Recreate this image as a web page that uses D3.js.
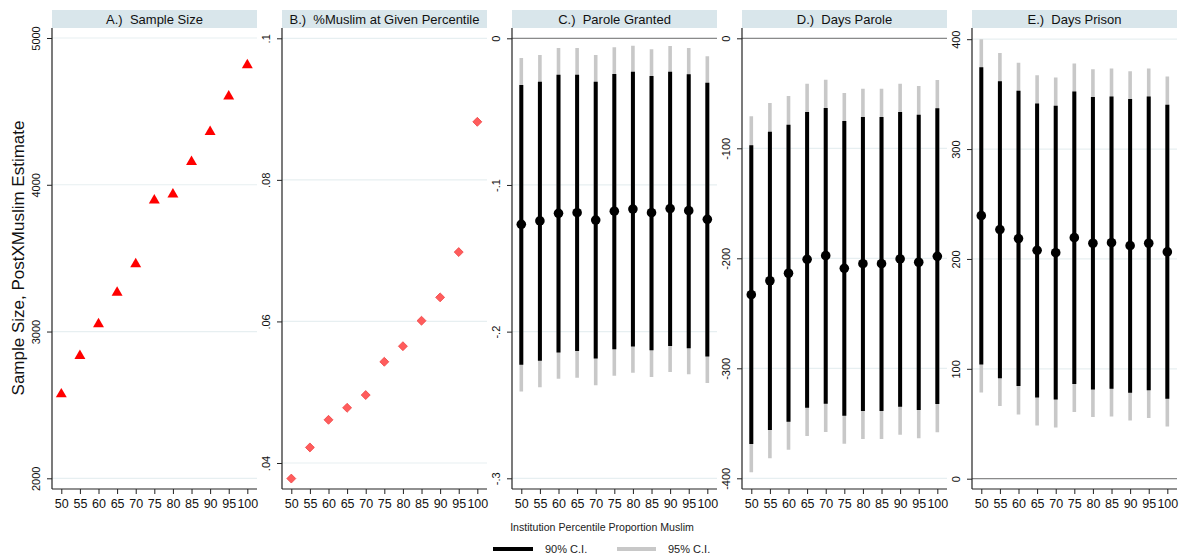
<!DOCTYPE html>
<html><head><meta charset="utf-8">
<script src="https://cdn.jsdelivr.net/npm/d3@7"></script>
<style>body{margin:0;background:#fff}svg{font-family:"Liberation Sans",Arial,Helvetica,sans-serif}</style>
</head><body><svg id="c" width="1182" height="558"></svg>
<script>
// ---------- data ----------
const percentiles = [50,55,60,65,70,75,80,85,90,95,100];
const xTickLabels = ["50","55","60","65","70","75","80","85","90","95","100"];

const sampleSize = [2573,2834,3050,3265,3460,3894,3935,4157,4360,4603,4816];
const pctMuslim  = [0.0378,0.0422,0.0461,0.0478,0.0496,0.0543,0.0565,0.0601,0.0634,0.0698,0.0882];

const paroleEst  = [-0.1268,-0.1245,-0.1193,-0.1189,-0.1239,-0.1179,-0.1164,-0.1189,-0.1161,-0.1175,-0.1234];
const paroleHi90 = [-0.0318,-0.0296,-0.0248,-0.0248,-0.0296,-0.0243,-0.0228,-0.0257,-0.0228,-0.0245,-0.0303];
const paroleLo90 = [-0.2225,-0.2198,-0.2143,-0.2132,-0.2184,-0.2120,-0.2102,-0.2127,-0.2098,-0.2113,-0.2170];
const paroleHi95 = [-0.0134,-0.0114,-0.0066,-0.0066,-0.0114,-0.0061,-0.0050,-0.0075,-0.0052,-0.0066,-0.0123];
const paroleLo95 = [-0.2409,-0.2379,-0.2322,-0.2314,-0.2365,-0.2300,-0.2281,-0.2309,-0.2275,-0.2290,-0.2350];

const daysParoleEst  = [-233.1,-220.4,-213.6,-200.9,-197.6,-209.1,-204.9,-204.9,-200.6,-203.6,-198.2];
const daysParoleHi90 = [-97.3,-84.9,-78.5,-67.0,-63.4,-75.2,-71.5,-71.5,-67.0,-69.5,-63.6];
const daysParoleLo90 = [-368.8,-356.1,-348.5,-335.8,-332.2,-343.1,-338.8,-338.8,-334.9,-337.9,-332.5];
const daysParoleHi95 = [-70.9,-58.8,-52.5,-41.3,-37.6,-49.7,-45.8,-45.8,-41.3,-43.4,-37.9];
const daysParoleLo95 = [-394.5,-381.8,-374.0,-361.5,-357.9,-368.5,-364.3,-364.3,-360.4,-363.6,-358.2];

const daysPrisonEst  = [239.4,226.7,218.5,207.9,205.7,219.4,214.3,214.8,212.1,214.3,206.4];
const daysPrisonHi90 = [374.5,361.8,353.0,341.5,339.4,352.4,347.3,347.9,345.5,347.9,340.3];
const daysPrisonLo90 = [103.9,91.5,84.3,73.9,72.1,86.1,81.2,81.8,78.2,80.6,72.7];
const daysPrisonHi95 = [400.0,387.5,378.5,367.3,365.2,377.9,372.7,373.3,370.9,373.3,366.1];
const daysPrisonLo95 = [78.5,66.1,58.5,48.5,46.6,60.6,56.1,56.6,53.0,55.2,47.6];

const titles = ["A.)  Sample Size","B.)  %Muslim at Given Percentile","C.)  Parole Granted","D.)  Days Parole","E.)  Days Prison"];
const yTicksA = [2000,3000,4000,5000];   const yLabelsA = ["2000","3000","4000","5000"];
const yTicksB = [0.04,0.06,0.08,0.1];   const yLabelsB = [".04",".06",".08",".1"];
const yTicksC = [-0.3,-0.2,-0.1,0];     const yLabelsC = ["-.3","-.2","-.1","0"];
const yTicksD = [-400,-300,-200,-100,0]; const yLabelsD = ["-400","-300","-200","-100","0"];
const yTicksE = [0,100,200,300,400];     const yLabelsE = ["0","100","200","300","400"];
const yAxisTitle = "Sample Size, PostXMuslim Estimate";
const xAxisTitle = "Institution Percentile Proportion Muslim";
const legendLabels = ["90% C.I.","95% C.I."];

// ---------- layout ----------
const svg = d3.select("#c");
const PW = 205, TOP = 28, BOT = 489, HDR_TOP = 10;
const gridColor = "#e7eff1", hdrColor = "#d9e6eb";

const panels = [
  {x0:52,  title:titles[0], domain:[2000,5000], range:[478.3,38], ticks:yTicksA, labels:yLabelsA, kind:"tri", vals:sampleSize},
  {x0:282, title:titles[1], domain:[0.04,0.1], range:[463,38.3], ticks:yTicksB, labels:yLabelsB, kind:"dia", vals:pctMuslim},
  {x0:512, title:titles[2], domain:[-0.3,0], range:[478.3,38.3], ticks:yTicksC, labels:yLabelsC, kind:"ci", zero:true,
     est:paroleEst, hi90:paroleHi90, lo90:paroleLo90, hi95:paroleHi95, lo95:paroleLo95},
  {x0:742, title:titles[3], domain:[-400,0], range:[478.3,38.3], ticks:yTicksD, labels:yLabelsD, kind:"ci", zero:true,
     est:daysParoleEst, hi90:daysParoleHi90, lo90:daysParoleLo90, hi95:daysParoleHi95, lo95:daysParoleLo95},
  {x0:972, title:titles[4], domain:[0,400], range:[478.7,39.2], ticks:yTicksE, labels:yLabelsE, kind:"ci", zero:true,
     est:daysPrisonEst, hi90:daysPrisonHi90, lo90:daysPrisonLo90, hi95:daysPrisonHi95, lo95:daysPrisonLo95}
];

panels.forEach(p => {
  const g = svg.append("g");
  const x = d3.scaleLinear().domain([47.5,102.6]).range([p.x0, p.x0+PW]);
  const y = d3.scaleLinear().domain(p.domain).range(p.range);

  // header
  g.append("rect").attr("x",p.x0).attr("y",HDR_TOP).attr("width",PW).attr("height",TOP-HDR_TOP).attr("fill",hdrColor);
  g.append("text").attr("x",p.x0+PW/2).attr("y",HDR_TOP+13.5).attr("text-anchor","middle")
    .attr("font-size",13).attr("fill","#111").style("white-space","pre").text(p.title);

  // gridlines
  g.selectAll(".grid").data(p.ticks).enter().append("line")
    .attr("x1",p.x0).attr("x2",p.x0+PW).attr("y1",d=>y(d)).attr("y2",d=>y(d))
    .attr("stroke",gridColor).attr("stroke-width",1.2);
  if (p.zero) {
    g.append("line").attr("x1",p.x0).attr("x2",p.x0+PW).attr("y1",y(0)).attr("y2",y(0))
      .attr("stroke","#8a8a8a").attr("stroke-width",1.2);
  }

  // y axis
  const ya = d3.axisLeft(y).tickValues(p.ticks).tickSize(5).tickFormat((d,i)=>p.labels[i]);
  const yg = g.append("g").attr("transform",`translate(${p.x0},0)`).call(ya);
  yg.select(".domain").remove();
  yg.selectAll(".tick line").attr("stroke","#222");
  yg.selectAll(".tick text").attr("x",0).attr("dy",0).attr("text-anchor","middle")
    .attr("transform","translate(-12,0) rotate(-90)").attr("font-size",11).attr("fill","#111")
    .style("font-family",'"Liberation Sans",Arial,sans-serif');
  g.append("line").attr("x1",p.x0).attr("x2",p.x0).attr("y1",TOP).attr("y2",BOT).attr("stroke","#222").attr("stroke-width",1.2);

  // x axis
  const xa = d3.axisBottom(x).tickValues(percentiles).tickSize(5).tickFormat((d,i)=>xTickLabels[i]);
  const xg = g.append("g").attr("transform",`translate(0,${BOT})`).call(xa);
  xg.select(".domain").remove();
  xg.selectAll(".tick line").attr("stroke","#222");
  xg.selectAll(".tick text").attr("y",10).attr("font-size",12.5).attr("fill","#111")
    .style("font-family",'"Liberation Sans",Arial,sans-serif');
  g.append("line").attr("x1",p.x0).attr("x2",p.x0+PW).attr("y1",BOT).attr("y2",BOT).attr("stroke","#222").attr("stroke-width",1.2);

  // marks
  if (p.kind==="tri") {
    const sym = d3.symbol().type(d3.symbolTriangle).size(52);
    g.selectAll(".m").data(p.vals).enter().append("path")
      .attr("d",sym).attr("transform",(d,i)=>`translate(${x(percentiles[i])},${y(d)})`)
      .attr("fill","#f00");
  } else if (p.kind==="dia") {
    const sym = d3.symbol().type(d3.symbolSquare).size(40);
    g.selectAll(".m").data(p.vals).enter().append("path")
      .attr("d",sym).attr("transform",(d,i)=>`translate(${x(percentiles[i])},${y(d)}) rotate(45)`)
      .attr("fill","#ff5c5c").attr("stroke","#f04848").attr("stroke-width",0.8);
  } else {
    g.selectAll(".c95").data(p.est).enter().append("line")
      .attr("x1",(d,i)=>x(percentiles[i])).attr("x2",(d,i)=>x(percentiles[i]))
      .attr("y1",(d,i)=>y(p.lo95[i])).attr("y2",(d,i)=>y(p.hi95[i]))
      .attr("stroke","#c8c8c8").attr("stroke-width",3.6);
    g.selectAll(".c90").data(p.est).enter().append("line")
      .attr("x1",(d,i)=>x(percentiles[i])).attr("x2",(d,i)=>x(percentiles[i]))
      .attr("y1",(d,i)=>y(p.lo90[i])).attr("y2",(d,i)=>y(p.hi90[i]))
      .attr("stroke","#000").attr("stroke-width",4);
    g.selectAll(".pt").data(p.est).enter().append("circle")
      .attr("cx",(d,i)=>x(percentiles[i])).attr("cy",d=>y(d)).attr("r",4.8).attr("fill","#000");
  }
});

// axis titles
svg.append("text").attr("transform","translate(24,258) rotate(-90)").attr("text-anchor","middle")
  .attr("font-size",17).attr("fill","#111").text(yAxisTitle);
svg.append("text").attr("x",602).attr("y",531).attr("text-anchor","middle")
  .attr("font-size",10.6).attr("fill","#222").text(xAxisTitle);

// legend
const lg = svg.append("g");
lg.append("line").attr("x1",493).attr("x2",533).attr("y1",549).attr("y2",549).attr("stroke","#000").attr("stroke-width",4);
lg.append("text").attr("x",545).attr("y",553).attr("font-size",11).attr("fill","#222").text(legendLabels[0]);
lg.append("line").attr("x1",617).attr("x2",656).attr("y1",549).attr("y2",549).attr("stroke","#c8c8c8").attr("stroke-width",4);
lg.append("text").attr("x",668).attr("y",553).attr("font-size",11).attr("fill","#222").text(legendLabels[1]);
</script></body></html>
